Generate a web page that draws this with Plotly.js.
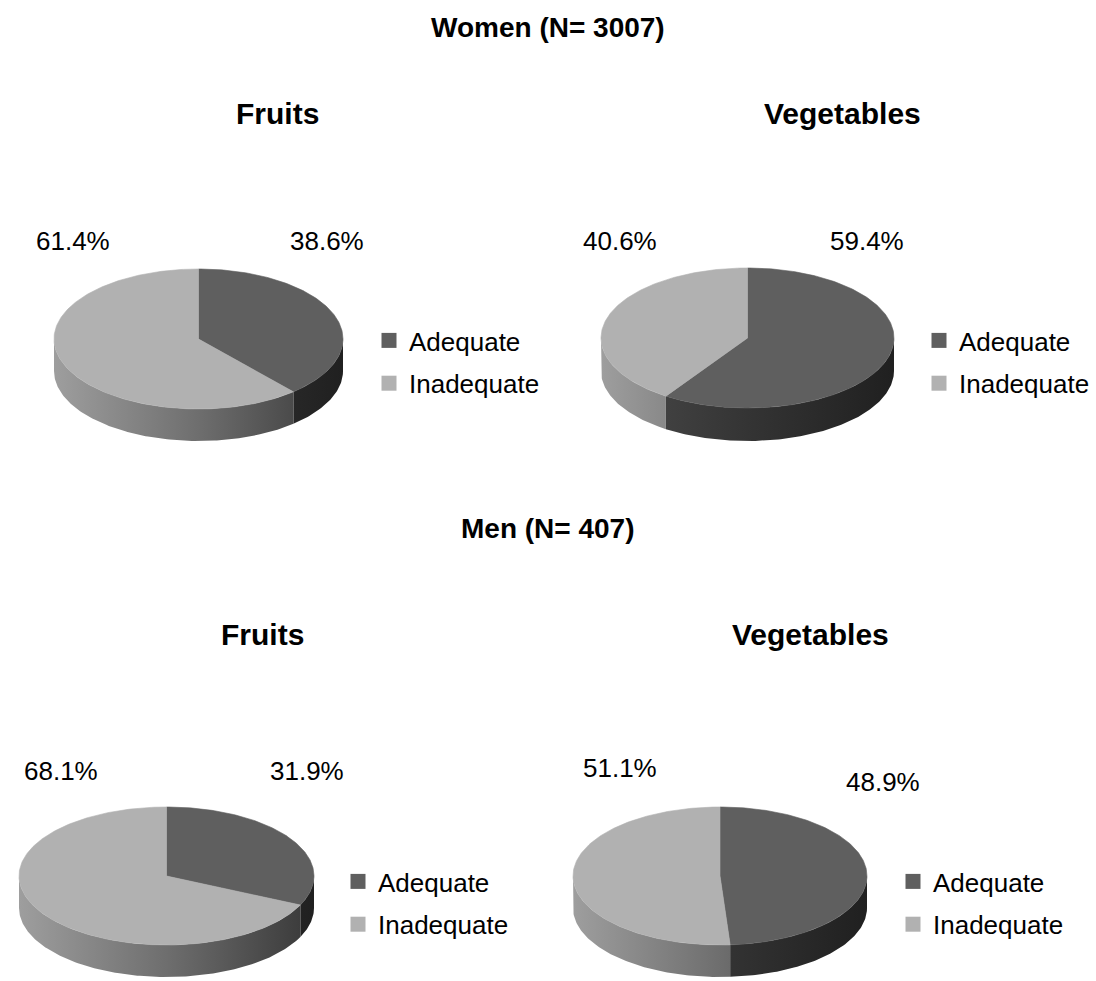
<!DOCTYPE html>
<html>
<head>
<meta charset="utf-8">
<script src="https://cdn.plot.ly/plotly-3.0.1.min.js"></script>
<style>html,body{margin:0;padding:0;background:#fff;}#chart{width:1096px;height:981px;}</style>
</head>
<body>
<div id="chart"></div>
<script>
// ---------- DATA ----------
const categories = ['Adequate', 'Inadequate'];
const groupTitles = ['Women (N= 3007)', 'Men (N= 407)'];
const chartTitles = ['Fruits', 'Vegetables', 'Fruits', 'Vegetables'];
const adequatePct = [38.6, 59.4, 31.9, 48.9];
const inadequatePct = [61.4, 40.6, 68.1, 51.1];

// ---------- LAYOUT / STYLE ----------
const W = 1096, H = 981;
const FONT = 'Liberation Sans, Arial, sans-serif';
const topColors = ['#5f5f5f', '#b1b1b1'];
const wallScales = [
  [[0, '#4a4a4a'], [0.5, '#343434'], [1, '#202020']],
  [[0, '#9e9e9e'], [0.5, '#6e6e6e'], [1, '#383838']]
];
const pies = [
  {cx: 198.5, cy: 339, rx: 144.5, ry: 70, d: 32},
  {cx: 747.5, cy: 338, rx: 146.5, ry: 70, d: 33},
  {cx: 166.5, cy: 876, rx: 147.5, ry: 69, d: 32},
  {cx: 720,   cy: 876, rx: 147,   ry: 69, d: 32}
];
const groupTitlePos = [[548, 27], [548, 528]];
const chartTitlePos = [[277, 113], [842, 113], [262, 634], [810, 634]];
// label positions: [adequate, inadequate]
const labelPos = [
  [[327, 241], [73, 241]],
  [[867, 241], [620, 241]],
  [[307, 771], [61, 771]],
  [[883, 782], [620, 768]]
];
// legend: left x of legend box, middle y
const legendPos = [[369, 362], [919, 362], [338, 903], [893, 903]];

function arc(p, t0, t1, dy) {
  const xs = [], ys = [];
  const n = Math.max(2, Math.ceil(Math.abs(t1 - t0)));
  for (let i = 0; i <= n; i++) {
    const t = (t0 + (t1 - t0) * i / n) * Math.PI / 180;
    xs.push(p.cx + p.rx * Math.sin(t));
    ys.push(p.cy - p.ry * Math.cos(t) + dy);
  }
  return [xs, ys];
}

const wallTraces = [], topTraces = [], legendTraces = [];
const annotations = [];

pies.forEach((p, i) => {
  const vals = [adequatePct[i], inadequatePct[i]];
  const total = vals[0] + vals[1];
  let start = 0;
  vals.forEach((v, j) => {
    const t0 = start, t1 = start + v / total * 360;
    start = t1;
    // side wall (front half only)
    const lo = Math.max(t0, 90), hi = Math.min(t1, 270);
    if (hi > lo) {
      const [ax, ay] = arc(p, lo, hi, 0);
      const [bx, by] = arc(p, hi, lo, p.d);
      wallTraces.push({
        type: 'scatter', mode: 'lines', fill: 'toself',
        x: ax.concat(bx, [ax[0]]), y: ay.concat(by, [ay[0]]),
        line: {width: 0, color: wallScales[j][1][1]},
        fillgradient: {type: 'horizontal', colorscale: wallScales[j], start: p.cx - p.rx, stop: p.cx + p.rx},
        hoverinfo: 'skip', showlegend: false
      });
    }
    // top face
    const [tx, ty] = arc(p, t0, t1, 0);
    topTraces.push({
      type: 'scatter', mode: 'lines', fill: 'toself',
      x: [p.cx].concat(tx, [p.cx]), y: [p.cy].concat(ty, [p.cy]),
      fillcolor: topColors[j], line: {width: 0.6, color: topColors[j]},
      hoverinfo: 'skip', showlegend: false
    });
    // legend entry
    legendTraces.push({
      type: 'scatter', mode: 'markers', x: [null], y: [null],
      name: categories[j],
      marker: {symbol: 'square', size: 15, color: topColors[j]},
      legend: i === 0 ? 'legend' : 'legend' + (i + 1),
      legendgroup: 'g' + i + '_' + j, showlegend: true, hoverinfo: 'skip'
    });
    // percentage label
    annotations.push({
      x: labelPos[i][j][0], y: labelPos[i][j][1], xref: 'x', yref: 'y',
      text: v.toFixed(1) + '%', showarrow: false,
      font: {family: FONT, size: 26, color: '#000'}
    });
  });
  annotations.push({
    x: chartTitlePos[i][0], y: chartTitlePos[i][1], xref: 'x', yref: 'y',
    text: '<b>' + chartTitles[i] + '</b>', showarrow: false,
    font: {family: FONT, size: 30, color: '#000'}
  });
});
groupTitles.forEach((t, g) => {
  annotations.push({
    x: groupTitlePos[g][0], y: groupTitlePos[g][1], xref: 'x', yref: 'y',
    text: '<b>' + t + '</b>', showarrow: false,
    font: {family: FONT, size: 28, color: '#000'}
  });
});

const layout = {
  width: W, height: H,
  margin: {l: 0, r: 0, t: 0, b: 0},
  paper_bgcolor: '#fff', plot_bgcolor: '#fff',
  xaxis: {range: [0, W], visible: false, fixedrange: true},
  yaxis: {range: [H, 0], visible: false, fixedrange: true},
  annotations: annotations,
  font: {family: FONT}
};
legendPos.forEach((lp, i) => {
  layout[i === 0 ? 'legend' : 'legend' + (i + 1)] = {
    x: lp[0] / W, y: 1 - lp[1] / H, xanchor: 'left', yanchor: 'middle',
    font: {family: FONT, size: 26, color: '#000'},
    bgcolor: 'rgba(0,0,0,0)', borderwidth: 0, tracegroupgap: 6,
    itemwidth: 30, itemclick: false, itemdoubleclick: false
  };
});

Plotly.newPlot('chart', wallTraces.concat(topTraces, legendTraces), layout, {displayModeBar: false, staticPlot: true});
</script>
</body>
</html>
